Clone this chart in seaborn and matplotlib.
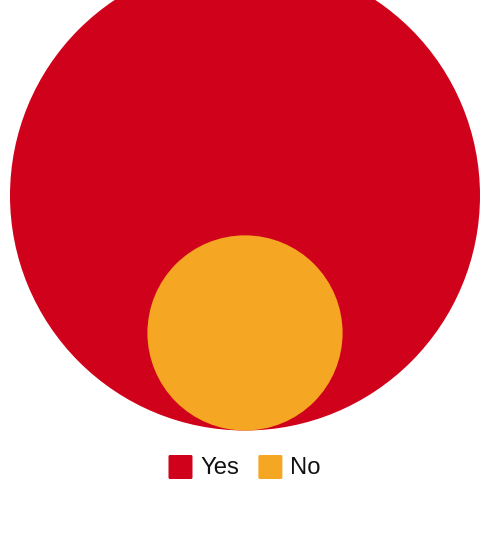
import numpy as np
import matplotlib
matplotlib.use("Agg")
import matplotlib.pyplot as plt
from matplotlib.patches import Circle, FancyBboxPatch
import seaborn as sns

# Answers and their counts; circle area is proportional to the count
categories = ["Yes", "No"]
counts = [58, 10]
colors = ["#D0021B", "#F5A623"]

sns.set_theme(style="white")
plt.rcParams["font.family"] = ["Liberation Sans", "DejaVu Sans"]

W, H = 482, 554
fig = plt.figure(figsize=(W / 100, H / 100), dpi=100)
ax = fig.add_axes([0, 0, 1, 1])
ax.set_xlim(0, W)
ax.set_ylim(H, 0)
ax.set_aspect("equal")
ax.axis("off")

# Nested circles, all resting on a common baseline
r_max = 235.0
cx, baseline = 245.0, 430.5
vmax = max(counts)
order = np.argsort(counts)[::-1]
for i in order:
    r = r_max * np.sqrt(counts[i] / vmax)
    ax.add_patch(Circle((cx, baseline - r), r, facecolor=colors[i],
                        edgecolor="none", zorder=2))

# Legend row centred under the circles
sw = 24
x = 168.5
y0 = 455
gap_after_text = 19
for lab, col in zip(categories, colors):
    ax.add_patch(FancyBboxPatch((x + 1.5, y0 + 1.5), sw - 3, sw - 3,
                                boxstyle="round,pad=1.5", facecolor=col,
                                edgecolor="none", zorder=3))
    t = ax.text(x + sw + 8, y0 + sw / 2 + 1, lab, fontsize=17.2, color="#111111",
                va="center", ha="left", zorder=3)
    fig.canvas.draw()
    bb = t.get_window_extent()
    x = bb.x1 + gap_after_text

fig.savefig("out.png", dpi=100)
